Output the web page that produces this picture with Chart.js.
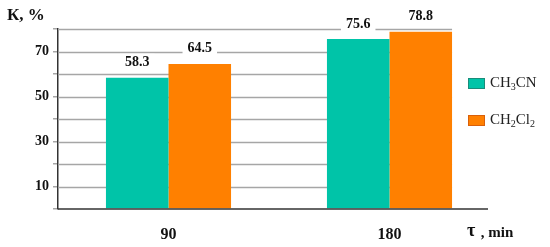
<!DOCTYPE html>
<html>
<head>
<meta charset="utf-8">
<script src="https://cdn.jsdelivr.net/npm/chart.js@4.4.1/dist/chart.umd.min.js"></script>
<style>
  html, body { margin: 0; padding: 0; background: #fff; }
  #wrap { width: 550px; height: 247px; }
</style>
</head>
<body>
<div id="wrap"><canvas id="myChart"></canvas></div>
<script>
const tiempos = ["90", "180"];
const series = ["CH3CN", "CH2Cl2"];
const ch3cn = [58.3, 75.6];
const ch2cl2 = [64.5, 78.8];
const yTicks = [10, 30, 50, 70];
const colores = ["#00c4a8", "#ff8000"];

const serif = "'Liberation Serif', 'Times New Roman', serif";

// lineas de la grilla solo hasta la ultima barra, eje x un poco mas largo
const grilla = {
  id: "grilla",
  beforeDatasetsDraw(chart) {
    const { ctx, chartArea } = chart;
    const y = chart.scales.y;
    const last = chart.getDatasetMeta(1).data[1];
    const xEnd = last.x + last.width / 2;
    ctx.save();
    ctx.strokeStyle = "#a6a6a6";
    ctx.lineWidth = 1.5;
    for (let v = 10; v <= 80; v += 10) {
      const py = Math.round(y.getPixelForValue(v)) + 0.5;
      ctx.beginPath();
      ctx.moveTo(chartArea.left, py);
      ctx.lineTo(xEnd, py);
      ctx.stroke();
    }
    ctx.restore();
  },
  afterDatasetsDraw(chart) {
    const { ctx, chartArea } = chart;
    ctx.save();
    ctx.strokeStyle = "#333";
    ctx.lineWidth = 1.5;
    ctx.beginPath();
    ctx.moveTo(chartArea.left, chartArea.bottom);
    ctx.lineTo(chartArea.right - 12, chartArea.bottom);
    ctx.stroke();
    ctx.restore();
  },
};

// etiquetas de valor con fondo blanco
const etiquetas = {
  id: "etiquetas",
  afterDatasetsDraw(chart) {
    const { ctx } = chart;
    ctx.save();
    ctx.font = "bold 14px " + serif;
    ctx.textAlign = "center";
    ctx.textBaseline = "middle";
    chart.data.datasets.forEach((ds, i) => {
      chart.getDatasetMeta(i).data.forEach((bar, j) => {
        const txt = ds.data[j].toFixed(1);
        const w = ctx.measureText(txt).width + 10;
        const cy = bar.y - 15;
        ctx.fillStyle = "#fff";
        ctx.fillRect(bar.x - w / 2, cy - 9, w, 18);
        ctx.fillStyle = "#111";
        ctx.fillText(txt, bar.x, cy);
      });
    });
    ctx.restore();
  },
};

// texto con subindices (digitos)
function textoQuimico(ctx, txt, x, y) {
  for (const c of txt) {
    if (/[0-9]/.test(c)) {
      ctx.font = "10px " + serif;
      ctx.fillText(c, x, y + 4);
    } else {
      ctx.font = "15px " + serif;
      ctx.fillText(c, x, y);
    }
    x += ctx.measureText(c).width;
  }
}

const leyenda = {
  id: "leyenda",
  afterDraw(chart) {
    const { ctx } = chart;
    ctx.save();
    ctx.textBaseline = "middle";
    ctx.textAlign = "left";
    series.forEach((s, i) => {
      const by = 78 + i * 37;
      ctx.fillStyle = colores[i];
      ctx.fillRect(468, by, 17, 11);
      ctx.strokeStyle = i === 0 ? "#1a8c7a" : "#d9600a";
      ctx.lineWidth = 1;
      ctx.strokeRect(468.5, by + 0.5, 16, 10);
      ctx.fillStyle = "#222";
      textoQuimico(ctx, s, 490, by + 5);
    });
    // titulos de ejes
    ctx.fillStyle = "#111";
    ctx.font = "bold 17px " + serif;
    ctx.textBaseline = "middle";
    ctx.fillText("К, %", 7, 16);
    ctx.font = "bold 18px " + serif;
    ctx.fillText("τ", 467, 231);
    ctx.font = "bold 15px " + serif;
    ctx.fillText(" , min", 477, 233);
    ctx.restore();
  },
};

new Chart(document.querySelector("#myChart"), {
  type: "bar",
  data: {
    labels: tiempos,
    datasets: [
      { label: series[0], data: ch3cn, backgroundColor: colores[0] },
      { label: series[1], data: ch2cl2, backgroundColor: colores[1] },
    ],
  },
  options: {
    responsive: true,
    maintainAspectRatio: false,
    animation: false,
    layout: { padding: { top: 29, right: 50, left: 0, bottom: 0 } },
    datasets: { bar: { categoryPercentage: 0.566, barPercentage: 1.0 } },
    plugins: { legend: { display: false }, tooltip: { enabled: false } },
    scales: {
      x: {
        grid: { display: false },
        border: { display: false },
        ticks: { color: "#111", font: { family: serif, size: 16, weight: "bold" }, padding: 8 },
        afterFit: (s) => { s.height = 38; },
      },
      y: {
        min: 0,
        max: 80,
        ticks: {
          stepSize: 10,
          color: "#111",
          padding: 4,
          font: { family: serif, size: 14, weight: "bold" },
          callback: (v) => (yTicks.includes(v) ? v : ""),
        },
        grid: { display: true, drawOnChartArea: false, tickLength: 5, color: "#a6a6a6", lineWidth: 1.5 },
        border: { display: true, color: "#333", width: 1.5 },
        afterFit: (s) => { s.width = 58; },
      },
    },
  },
  plugins: [grilla, etiquetas, leyenda],
});
</script>
</body>
</html>
